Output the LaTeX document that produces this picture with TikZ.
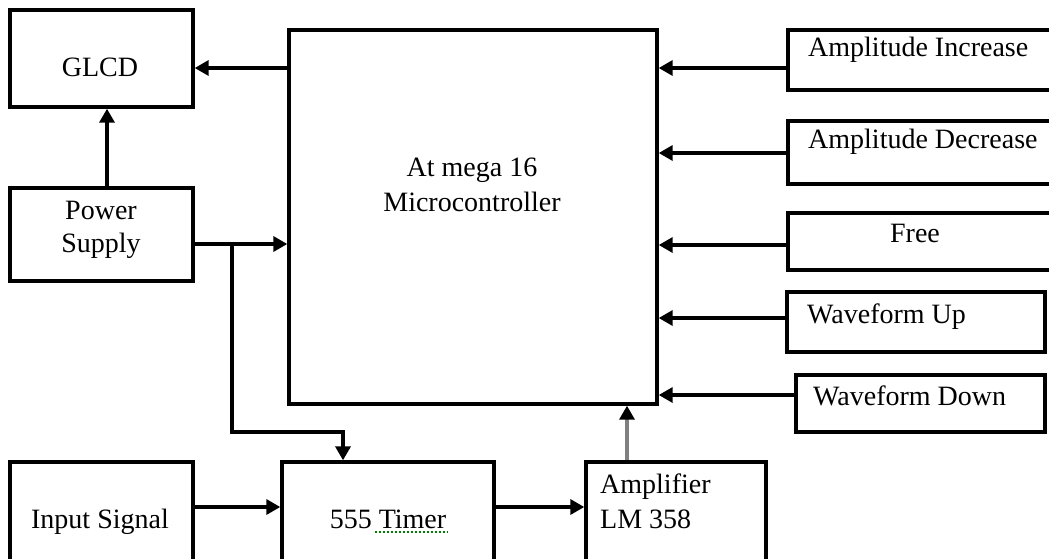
\documentclass[tikz,border=0pt]{standalone}
\usepackage{fontspec}
\setmainfont{Liberation Serif}
\usetikzlibrary{arrows.meta}

\tikzset{
  blk/.style={draw, line width=3.4pt, inner sep=0pt},
  lbl/.style={font=\fontsize{28}{33}\selectfont, inner sep=0pt},
  arr/.style={line width=3.4pt, -{Triangle[length=14pt,width=15pt]}},
}
% box from its left, top, right and bottom edges
\newcommand{\bx}[5]{\node[blk, minimum width={#4-#2}, minimum height={#5-#3}] (#1) at ({(#2+#4)/2},{(#3+#5)/2}) {};}

\begin{document}
\begin{tikzpicture}[x=1pt, y=-1pt]
\useasboundingbox (0,0) rectangle (1049,558);
% blocks
\bx{glcd}{10}{10}{193}{107}
\bx{power}{10}{188}{193}{281}
\bx{micro}{289}{30}{657}{404}
\bx{ampinc}{788}{30}{1070}{90}
\bx{ampdec}{788}{121}{1070}{184}
\bx{free}{788}{213}{1070}{270}
\bx{wup}{787}{292}{1045}{352}
\bx{wdown}{796}{375}{1045}{432}
\bx{input}{10}{462}{193}{580}
\bx{timer}{282}{462}{494}{580}
\bx{amp}{586}{462}{766}{580}

% labels
\node[lbl, anchor=base] (glcdtxt) at (100,76) {GLCD};
\node[lbl, anchor=base] (pwrtxt1) at (101,219) {Power};
\node[lbl, anchor=base] (pwrtxt2) at (101,252) {Supply};
\node[lbl, anchor=base] (mctxt1) at (472,176) {At mega 16};
\node[lbl, anchor=base] (mctxt2) at (472,211) {Microcontroller};
\node[lbl, anchor=base west] (aitxt) at (808,56) {Amplitude Increase};
\node[lbl, anchor=base west] (adtxt) at (808,148) {Amplitude Decrease};
\node[lbl, anchor=base] (frtxt) at (915,242) {Free};
\node[lbl, anchor=base west] (wutxt) at (807,323) {Waveform Up};
\node[lbl, anchor=base west] (wdtxt) at (813,405) {Waveform Down};
\node[lbl, anchor=base] (intxt) at (100,528) {Input Signal};
\node[lbl, anchor=base] (tmtxt) at (388,528) {555 Timer};
\node[lbl, anchor=base west] (amtxt1) at (600,493) {Amplifier};
\node[lbl, anchor=base west] (amtxt2) at (600,528) {LM 358};
\draw[green!50!black, line width=2pt, dash pattern=on 2pt off 2pt] (375,532) -- (448,532);

% connectors
\draw[arr] (micro.west |- 0,68) -- (glcd.east |- 0,68);
\draw[arr] (power.north -| 107,0) -- (glcd.south -| 107,0);
\draw[arr] (power.east |- 0,244) -- (micro.west |- 0,244);
\coordinate (split) at (232,244);
\coordinate (bend) at (343,432);
\draw[arr] (split) |- (bend) -- (timer.north -| bend);
\foreach \src/\y in {ampinc/68, ampdec/153, free/245, wup/318, wdown/395}
  \draw[arr] (\src.west |- 0,\y) -- (micro.east |- 0,\y);
\draw[arr] (input.east |- 0,507) -- (timer.west |- 0,507);
\draw[arr] (timer.east |- 0,507) -- (amp.west |- 0,507);
\draw[arr, draw=gray, -{Triangle[length=14pt,width=15pt,color=black]}] (amp.north -| 627,0) -- (micro.south -| 627,0);
\end{tikzpicture}
\end{document}
